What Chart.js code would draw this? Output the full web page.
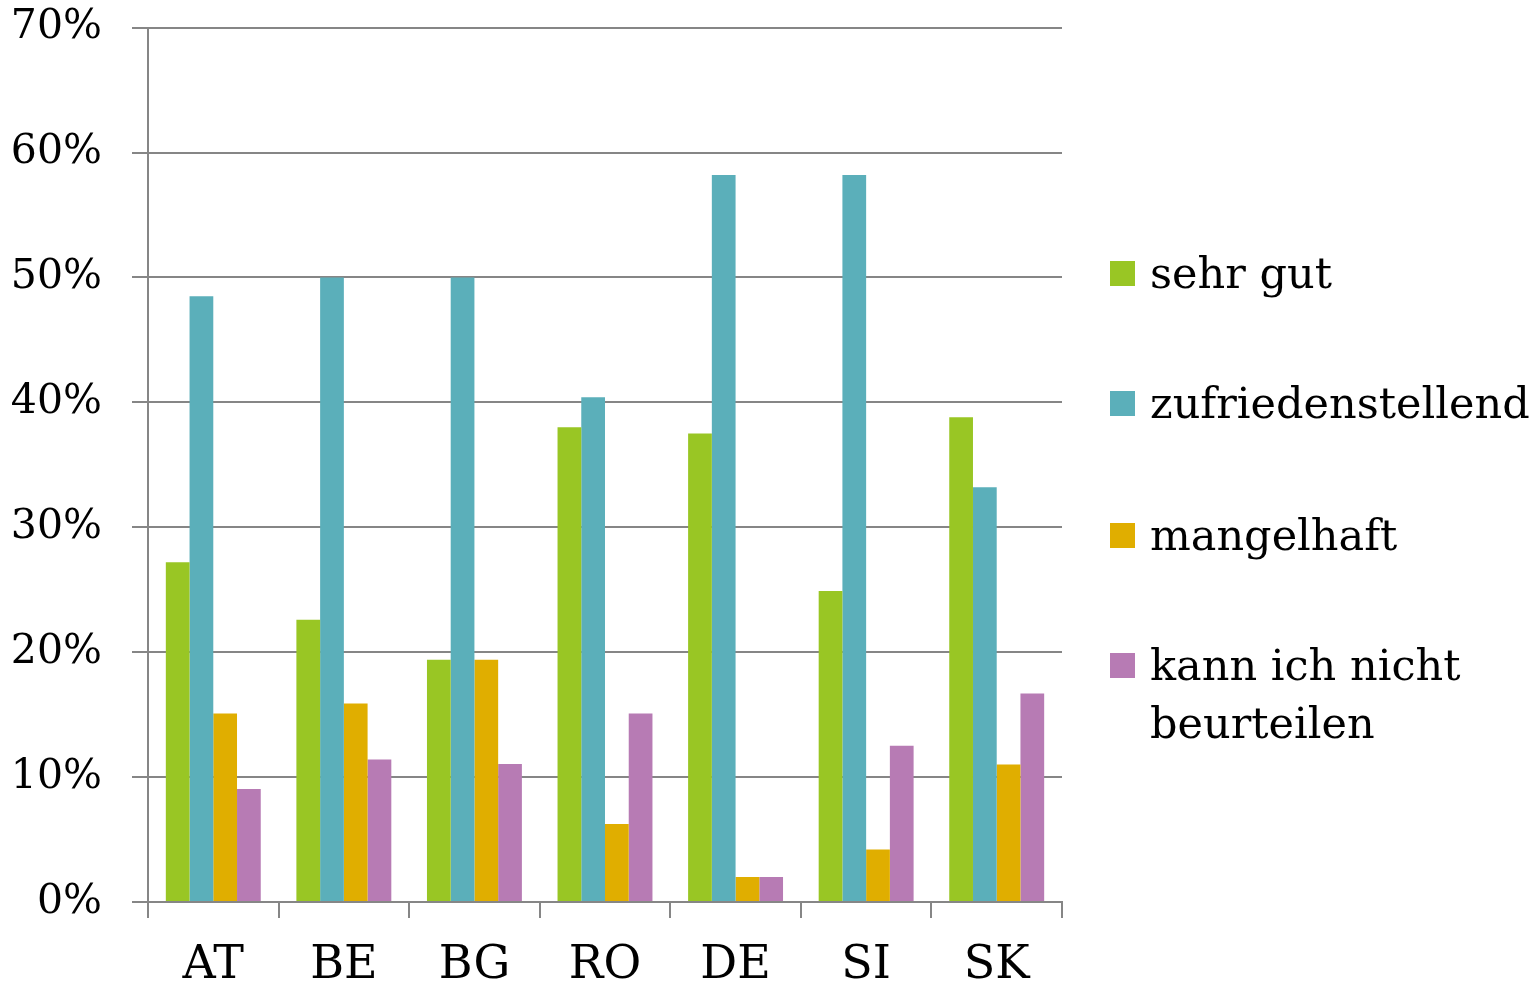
<!DOCTYPE html>
<html>
<head>
<meta charset="utf-8">
<script src="https://cdn.jsdelivr.net/npm/chart.js@4"></script>
<style>
html,body{margin:0;padding:0;background:#fff;overflow:hidden;}
#wrap{position:relative;width:1540px;height:987px;overflow:hidden;}
#c{position:absolute;left:0;top:-27px;}
#legend{position:absolute;left:1110px;top:0;font-family:"DejaVu Serif",serif;font-size:43px;color:#000;}
.item{position:absolute;left:0;display:flex;align-items:flex-start;}
.sw{width:25px;height:25px;flex:none;}
.txt{margin-left:15px;width:390px;line-height:58px;}
</style>
</head>
<body>
<div id="wrap">
<canvas id="c" width="1540" height="1014"></canvas>
<div id="legend"></div>
</div>
<script>
const categories = ["AT","BE","BG","RO","DE","SI","SK"];
const seriesNames = ["sehr gut","zufriedenstellend","mangelhaft","kann ich nicht beurteilen"];
const sehrGut = [27.2, 22.6, 19.4, 38.0, 37.5, 24.9, 38.8];
const zufrieden = [48.5, 50.0, 50.0, 40.4, 58.2, 58.2, 33.2];
const mangelhaft = [15.1, 15.9, 19.4, 6.25, 2.0, 4.2, 11.0];
const kannNicht = [9.05, 11.4, 11.05, 15.1, 2.0, 12.5, 16.7];
const yTicks = [0,10,20,30,40,50,60,70];
const colors = ["#99C624","#5BAFBA","#E0AE00","#B77BB4"];
const values = [sehrGut, zufrieden, mangelhaft, kannNicht];

const gridColor = "#868686";

new Chart(document.getElementById("c"), {
  type:"bar",
  data:{
    labels:categories,
    datasets: seriesNames.map((n,i)=>({label:n,data:values[i],backgroundColor:colors[i],borderWidth:0,categoryPercentage:0.727,barPercentage:1}))
  },
  options:{
    responsive:false,
    animation:false,
    layout:{padding:{top:2,right:478,left:0,bottom:0}},
    plugins:{legend:{display:false},tooltip:{enabled:false}},
    scales:{
      x:{
        grid:{offset:true,drawOnChartArea:false,drawTicks:true,tickLength:16,color:gridColor,lineWidth:2},
        border:{color:gridColor,width:2},
        ticks:{font:{family:"DejaVu Serif",size:46},color:"#000",padding:20,maxRotation:0},
        afterFit:(s)=>{s.height=85;}
      },
      y:{
        min:0,max:70,
        afterBuildTicks:(s)=>{s.ticks=yTicks.map(v=>({value:v}));},
        grid:{color:gridColor,lineWidth:2,tickLength:16},
        border:{color:gridColor,width:2},
        ticks:{font:{family:"DejaVu Serif",size:41},color:"#000",padding:30,callback:v=>v+"%"},
        afterFit:(s)=>{s.width=148;}
      }
    }
  }
});

const lg = document.getElementById("legend");
const centers = [273,403,535,665];
seriesNames.forEach((n,i)=>{
  const it=document.createElement("div");
  it.className="item";
  it.style.top=(centers[i]-29)+"px";
  const sw=document.createElement("div");
  sw.className="sw";sw.style.background=colors[i];sw.style.marginTop="17px";
  const t=document.createElement("div");
  t.className="txt";t.textContent=n;
  it.appendChild(sw);it.appendChild(t);
  lg.appendChild(it);
});
</script>
</body>
</html>
